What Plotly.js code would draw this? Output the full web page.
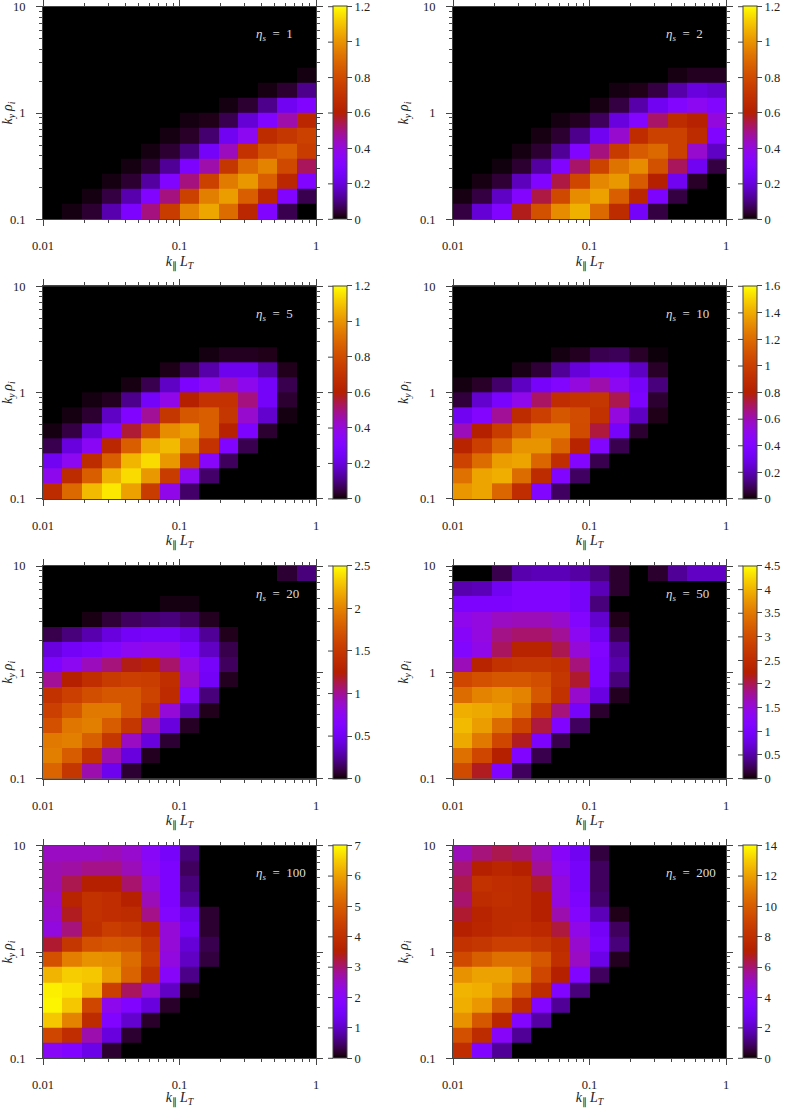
<!DOCTYPE html>
<html>
<head>
<meta charset="utf-8">
<script src="https://cdn.plot.ly/plotly-3.0.1.min.js"></script>
<style>
  html, body { margin: 0; padding: 0; background: #fff; }
</style>
</head>
<body>
<div id="chart" style="width:791px;height:1108px"></div>
<script>
const kParallelEdges = [0.01, 0.01389, 0.01931, 0.02683, 0.03728, 0.0518, 0.07197, 0.1, 0.1389, 0.1931, 0.2683, 0.3728, 0.518, 0.7197, 1];
const kyEdges = [0.1, 0.1389, 0.1931, 0.2683, 0.3728, 0.518, 0.7197, 1, 1.389, 1.931, 2.683, 3.728, 5.18, 7.197, 10];

// rows run from ky = 0.1 upwards
const zEta1 = [
  [0, .012, .036, .144, .29, .5, .74, .96, 1.04, .9, .64, .3, .06, 0],
  [0, 0, .012, .05, .144, .3, .5, .76, .95, 1.02, .86, .64, .3, .06],
  [0, 0, 0, .012, .036, .13, .3, .5, .76, .94, 1.01, .86, .64, .3],
  [0, 0, 0, 0, .012, .036, .12, .29, .46, .72, .89, .96, .79, .53],
  [0, 0, 0, 0, 0, .012, .036, .1, .26, .44, .7, .82, .86, .74],
  [0, 0, 0, 0, 0, 0, .012, .03, .085, .24, .36, .66, .72, .76],
  [0, 0, 0, 0, 0, 0, 0, .012, .018, .06, .19, .3, .46, .64],
  [0, 0, 0, 0, 0, 0, 0, 0, 0, .012, .036, .11, .24, .3],
  [0, 0, 0, 0, 0, 0, 0, 0, 0, 0, 0, .014, .036, .11],
  [0, 0, 0, 0, 0, 0, 0, 0, 0, 0, 0, 0, 0, .012],
  [0, 0, 0, 0, 0, 0, 0, 0, 0, 0, 0, 0, 0, 0],
  [0, 0, 0, 0, 0, 0, 0, 0, 0, 0, 0, 0, 0, 0],
  [0, 0, 0, 0, 0, 0, 0, 0, 0, 0, 0, 0, 0, 0],
  [0, 0, 0, 0, 0, 0, 0, 0, 0, 0, 0, 0, 0, 0],
];
const zEta2 = [
  [.05, .19, .3, .58, .82, .98, 1.06, .89, .66, .26, .05, 0, 0, 0],
  [.014, .05, .17, .32, .55, .79, .98, 1.03, .86, .64, .29, .05, 0, 0],
  [0, .014, .04, .16, .3, .55, .78, .97, 1.01, .85, .6, .24, .03, 0],
  [0, 0, .01, .036, .13, .3, .52, .77, .92, .98, .82, .53, .24, .05],
  [0, 0, 0, .012, .036, .12, .3, .5, .73, .85, .89, .76, .42, .17],
  [0, 0, 0, 0, .014, .036, .11, .24, .42, .67, .76, .76, .66, .3],
  [0, 0, 0, 0, 0, .012, .024, .07, .2, .32, .52, .66, .62, .4],
  [0, 0, 0, 0, 0, 0, 0, .014, .05, .14, .24, .31, .36, .31],
  [0, 0, 0, 0, 0, 0, 0, 0, .012, .018, .05, .14, .2, .18],
  [0, 0, 0, 0, 0, 0, 0, 0, 0, 0, 0, .014, .024, .024],
  [0, 0, 0, 0, 0, 0, 0, 0, 0, 0, 0, 0, 0, 0],
  [0, 0, 0, 0, 0, 0, 0, 0, 0, 0, 0, 0, 0, 0],
  [0, 0, 0, 0, 0, 0, 0, 0, 0, 0, 0, 0, 0, 0],
  [0, 0, 0, 0, 0, 0, 0, 0, 0, 0, 0, 0, 0, 0],
];
const zEta5 = [
  [.66, .89, 1.08, 1.16, 1.03, .74, .38, .08, 0, 0, 0, 0, 0, 0],
  [.37, .66, .86, 1.06, 1.14, 1.01, .74, .36, .08, 0, 0, 0, 0, 0],
  [.24, .36, .66, .86, 1.07, 1.14, 1.01, .74, .34, .07, 0, 0, 0, 0],
  [.06, .2, .35, .64, .86, 1.04, 1.08, .95, .7, .3, .06, 0, 0, 0],
  [.012, .05, .19, .32, .56, .79, .98, 1.02, .86, .62, .29, .036, 0, 0],
  [0, .012, .036, .17, .3, .48, .72, .84, .86, .72, .42, .18, .012, 0],
  [0, 0, .012, .024, .11, .26, .38, .6, .7, .7, .5, .26, .036, 0],
  [0, 0, 0, 0, .014, .06, .17, .29, .36, .44, .37, .26, .06, 0],
  [0, 0, 0, 0, 0, 0, .017, .06, .14, .23, .23, .14, .02, 0],
  [0, 0, 0, 0, 0, 0, 0, 0, .012, .024, .024, .018, 0, 0],
  [0, 0, 0, 0, 0, 0, 0, 0, 0, 0, 0, 0, 0, 0],
  [0, 0, 0, 0, 0, 0, 0, 0, 0, 0, 0, 0, 0, 0],
  [0, 0, 0, 0, 0, 0, 0, 0, 0, 0, 0, 0, 0, 0],
  [0, 0, 0, 0, 0, 0, 0, 0, 0, 0, 0, 0, 0, 0],
];
const zEta10 = [
  [1.34, 1.38, 1.18, .9, .42, .1, 0, 0, 0, 0, 0, 0, 0, 0],
  [1.22, 1.38, 1.41, 1.2, .88, .4, .1, 0, 0, 0, 0, 0, 0, 0],
  [1.02, 1.2, 1.36, 1.38, 1.18, .9, .43, .08, 0, 0, 0, 0, 0, 0],
  [.83, 1.01, 1.17, 1.33, 1.33, 1.17, .83, .42, .08, 0, 0, 0, 0, 0],
  [.59, .8, .99, 1.15, 1.28, 1.28, 1.06, .74, .35, .05, 0, 0, 0, 0],
  [.32, .43, .64, .88, 1.01, 1.12, 1.07, .93, .53, .22, .024, 0, 0, 0],
  [.06, .24, .37, .5, .7, .9, .94, .96, .72, .38, .05, 0, 0, 0],
  [.016, .04, .11, .22, .35, .42, .53, .61, .48, .35, .13, 0, 0, 0],
  [0, 0, 0, .02, .056, .16, .26, .35, .37, .22, .04, 0, 0, 0],
  [0, 0, 0, 0, 0, .016, .032, .08, .09, .04, .01, 0, 0, 0],
  [0, 0, 0, 0, 0, 0, 0, 0, 0, 0, 0, 0, 0, 0],
  [0, 0, 0, 0, 0, 0, 0, 0, 0, 0, 0, 0, 0, 0],
  [0, 0, 0, 0, 0, 0, 0, 0, 0, 0, 0, 0, 0, 0],
  [0, 0, 0, 0, 0, 0, 0, 0, 0, 0, 0, 0, 0, 0],
];
const zEta20 = [
  [1.83, 1.5, .95, .48, .08, 0, 0, 0, 0, 0, 0, 0, 0, 0],
  [1.98, 1.78, 1.45, .95, .42, .05, 0, 0, 0, 0, 0, 0, 0, 0],
  [1.95, 1.98, 1.8, 1.5, .9, .42, .08, 0, 0, 0, 0, 0, 0, 0],
  [1.7, 1.93, 1.98, 1.78, 1.5, .95, .42, .06, 0, 0, 0, 0, 0, 0],
  [1.58, 1.75, 1.95, 1.95, 1.75, 1.5, .85, .32, .04, 0, 0, 0, 0, 0],
  [1.45, 1.58, 1.68, 1.75, 1.75, 1.6, 1.38, .65, .2, 0, 0, 0, 0, 0],
  [1, 1.25, 1.42, 1.53, 1.58, 1.55, 1.42, .88, .52, .05, 0, 0, 0, 0],
  [.62, .75, .92, 1.05, 1.22, 1.3, 1.08, .82, .55, .15, 0, 0, 0, 0],
  [.42, .52, .58, .65, .75, .78, .78, .62, .35, .12, 0, 0, 0, 0],
  [.12, .2, .3, .42, .52, .55, .55, .45, .25, .04, 0, 0, 0, 0],
  [0, 0, .03, .09, .15, .18, .2, .15, .05, 0, 0, 0, 0, 0],
  [0, 0, 0, 0, 0, 0, .025, .025, 0, 0, 0, 0, 0, 0],
  [0, 0, 0, 0, 0, 0, 0, 0, 0, 0, 0, 0, 0, 0],
  [0, 0, 0, 0, 0, 0, 0, 0, 0, 0, 0, 0, .08, .2],
];
const zEta50 = [
  [3.0, 2.16, 1.13, .27, 0, 0, 0, 0, 0, 0, 0, 0, 0, 0],
  [3.42, 2.93, 2.25, 1.13, .22, 0, 0, 0, 0, 0, 0, 0, 0, 0],
  [3.92, 3.51, 2.93, 2.16, 1.08, .22, 0, 0, 0, 0, 0, 0, 0, 0],
  [4.05, 3.83, 3.38, 2.88, 2.07, 1.13, .27, 0, 0, 0, 0, 0, 0, 0],
  [3.96, 3.92, 3.83, 3.42, 2.7, 1.89, .99, .13, 0, 0, 0, 0, 0, 0],
  [3.38, 3.6, 3.69, 3.6, 3.15, 2.61, 1.58, .77, .09, 0, 0, 0, 0, 0],
  [2.93, 3.06, 3.15, 3.15, 3.02, 2.7, 2.12, 1.08, .36, 0, 0, 0, 0, 0],
  [1.67, 2.34, 2.61, 2.7, 2.7, 2.61, 1.89, 1.08, .54, 0, 0, 0, 0, 0],
  [1.17, 1.44, 1.98, 2.34, 2.34, 2.02, 1.53, 1.12, .45, 0, 0, 0, 0, 0],
  [1.26, 1.49, 1.85, 1.94, 1.94, 1.8, 1.35, .9, .22, 0, 0, 0, 0, 0],
  [1.4, 1.49, 1.62, 1.67, 1.67, 1.58, 1.22, .68, .07, 0, 0, 0, 0, 0],
  [1.08, 1.08, 1.08, 1.13, 1.13, 1.13, .99, .36, 0, 0, 0, 0, 0, 0],
  [.54, .58, .9, 1.13, 1.13, 1.13, .99, .58, .13, 0, 0, 0, 0, 0],
  [0, 0, .22, .54, .58, .58, .5, .36, .13, 0, .13, .45, .63, .63],
];
const zEta100 = [
  [2.03, 1.75, 1.26, .21, 0, 0, 0, 0, 0, 0, 0, 0, 0, 0],
  [4.55, 3.92, 2.66, 1.19, .21, 0, 0, 0, 0, 0, 0, 0, 0, 0],
  [6.44, 5.6, 3.85, 1.75, 1.05, .18, 0, 0, 0, 0, 0, 0, 0, 0],
  [6.9, 6.44, 4.55, 2.17, 1.75, 1.19, .18, 0, 0, 0, 0, 0, 0, 0],
  [6.86, 6.72, 6.23, 4.41, 3.08, 2.38, .98, .08, 0, 0, 0, 0, 0, 0],
  [6.23, 6.51, 6.44, 5.95, 5.11, 3.99, 1.96, .63, 0, 0, 0, 0, 0, 0],
  [4.76, 5.53, 5.81, 5.74, 5.25, 4.34, 2.31, .98, .28, 0, 0, 0, 0, 0],
  [3.29, 4.2, 4.76, 4.9, 4.83, 4.2, 2.38, 1.12, .35, 0, 0, 0, 0, 0],
  [2.31, 2.94, 3.99, 4.34, 4.2, 3.78, 2.38, 1.47, .21, 0, 0, 0, 0, 0],
  [2.45, 3.36, 4.06, 3.92, 3.85, 2.87, 1.82, 1.26, .21, 0, 0, 0, 0, 0],
  [2.52, 3.64, 4.06, 3.92, 3.57, 2.59, 1.68, .7, 0, 0, 0, 0, 0, 0],
  [2.66, 3.15, 3.5, 3.5, 3.01, 2.38, 1.68, .56, 0, 0, 0, 0, 0, 0],
  [2.66, 2.73, 2.87, 2.87, 2.59, 2.1, 1.68, .42, 0, 0, 0, 0, 0, 0],
  [2.52, 2.52, 2.52, 2.59, 2.45, 2.03, 1.54, .56, 0, 0, 0, 0, 0, 0],
];
const zEta200 = [
  [7.84, 3.5, 1.4, 0, 0, 0, 0, 0, 0, 0, 0, 0, 0, 0],
  [9.52, 7.7, 3.92, 1.4, 0, 0, 0, 0, 0, 0, 0, 0, 0, 0],
  [11.62, 9.8, 7.42, 3.78, 1.54, 0, 0, 0, 0, 0, 0, 0, 0, 0],
  [12.32, 11.76, 10.08, 7.7, 3.78, 1.4, 0, 0, 0, 0, 0, 0, 0, 0],
  [12.46, 12.32, 11.62, 9.8, 7.7, 3.5, 1.12, 0, 0, 0, 0, 0, 0, 0],
  [11.62, 12.04, 12.04, 11.34, 9.1, 7, 3.5, .84, 0, 0, 0, 0, 0, 0],
  [9.24, 10.08, 10.64, 10.64, 9.8, 7.98, 5.04, 2.52, .28, 0, 0, 0, 0, 0],
  [8.12, 8.4, 8.82, 8.82, 8.4, 7.7, 4.9, 3.22, 1.12, 0, 0, 0, 0, 0],
  [7, 7.42, 7.7, 7.84, 7.56, 6.44, 4.48, 2.94, .84, 0, 0, 0, 0, 0],
  [6.58, 7.28, 7.7, 7.7, 7, 5.32, 3.78, 1.82, .21, 0, 0, 0, 0, 0],
  [6.02, 7.7, 7.98, 7.7, 7, 4.62, 3.36, .98, 0, 0, 0, 0, 0, 0],
  [6.3, 8.12, 7.84, 7.7, 6.58, 4.62, 3.08, .84, 0, 0, 0, 0, 0, 0],
  [5.88, 7, 7.42, 7, 5.6, 4.2, 3.08, .84, 0, 0, 0, 0, 0, 0],
  [5.18, 5.88, 6.3, 6.02, 5.18, 3.92, 2.8, .56, 0, 0, 0, 0, 0, 0],
];

const etaLabels = ["1", "2", "5", "10", "20", "50", "100", "200"];
const zPanels = [zEta1, zEta2, zEta5, zEta10, zEta20, zEta50, zEta100, zEta200];
const zMaxes = [1.2, 1.2, 1.2, 1.6, 2.5, 4.5, 7, 14];
const ticks12 = [0, 0.2, 0.4, 0.6, 0.8, 1, 1.2];
const ticks16 = [0, 0.2, 0.4, 0.6, 0.8, 1, 1.2, 1.4, 1.6];
const ticks25 = [0, 0.5, 1, 1.5, 2, 2.5];
const ticks45 = [0, 0.5, 1, 1.5, 2, 2.5, 3, 3.5, 4, 4.5];
const ticks7 = [0, 1, 2, 3, 4, 5, 6, 7];
const ticks14 = [0, 2, 4, 6, 8, 10, 12, 14];
const barTicks = [ticks12, ticks12, ticks12, ticks16, ticks25, ticks45, ticks7, ticks14];

const W = 791, H = 1108;
const colLeft = [43, 453];
const rowTop = [6.7, 286.3, 566, 845.7];
const plotW = 273, plotH = 212.6;
const barGap = 17, barW = 14;
const lineColor = "#444";
const font = { family: "Liberation Serif", size: 12.5, color: "#222" };
const mathFont = { family: "Liberation Serif", size: 14, color: "#222" };

// gnuplot default pm3d palette (rgbformulae 7,5,15)
const gnuplotScale = [];
for (let i = 0; i <= 64; i++) {
  const t = i / 64;
  const r = Math.round(255 * Math.sqrt(t));
  const g = Math.round(255 * t * t * t);
  const b = Math.round(255 * Math.max(0, Math.sin(2 * Math.PI * t)));
  gnuplotScale.push([t, `rgb(${r},${g},${b})`]);
}

const traces = [];
const shapes = [];
const annotations = [];
const layout = {
  width: W,
  height: H,
  margin: { l: 0, r: 0, t: 0, b: 0, autoexpand: false },
  paper_bgcolor: "#fff",
  plot_bgcolor: "#000",
  font: font,
  showlegend: false,
  shapes: shapes,
  annotations: annotations,
};

zPanels.forEach((z, i) => {
  const left = colLeft[i % 2];
  const top = rowTop[Math.floor(i / 2)];
  const n = i + 1;
  const suffix = n === 1 ? "" : String(n);
  const barLeft = left + plotW + barGap;

  traces.push({
    type: "heatmap",
    x: kParallelEdges,
    y: kyEdges,
    z: z,
    xaxis: "x" + suffix,
    yaxis: "y" + suffix,
    zmin: 0,
    zmax: zMaxes[i],
    zsmooth: false,
    hoverinfo: "skip",
    colorscale: gnuplotScale,
    colorbar: {
      x: barLeft / W,
      xanchor: "left",
      xpad: 0,
      y: 1 - (top + plotH) / H,
      yanchor: "bottom",
      ypad: 0,
      len: plotH / H,
      lenmode: "fraction",
      thickness: barW,
      thicknessmode: "pixels",
      outlinewidth: 1,
      outlinecolor: lineColor,
      borderwidth: 0,
      tickmode: "array",
      tickvals: barTicks[i],
      ticktext: barTicks[i].map(String),
      ticks: "outside",
      ticklen: 5,
      tickwidth: 1,
      tickcolor: lineColor,
      tickfont: font,
      ticklabeloverflow: "allow",
      tickprefix: "\u00a0\u00a0\u00a0",
    },
  });

  const axisBase = {
    type: "log",
    showgrid: false,
    zeroline: false,
    showline: true,
    linecolor: lineColor,
    linewidth: 1,
    mirror: "ticks",
    ticks: "outside",
    ticklen: 6,
    tickwidth: 1,
    tickcolor: lineColor,
    dtick: 1,
    tickfont: font,
    minor: { dtick: "D1", ticks: "outside", ticklen: 3, tickwidth: 1, tickcolor: lineColor, showgrid: false },
  };

  layout["xaxis" + suffix] = Object.assign({}, axisBase, {
    domain: [left / W, (left + plotW) / W],
    anchor: "y" + suffix,
    range: [-2, 0],
    ticklabelstandoff: 9,
    title: { text: "<i>k</i><sub>∥</sub>\u2009<i>L<sub>T</sub></i>", font: mathFont, standoff: 3 },
  });
  layout["yaxis" + suffix] = Object.assign({}, axisBase, {
    domain: [1 - (top + plotH) / H, 1 - top / H],
    anchor: "x" + suffix,
    range: [-1, 1],
    ticklabelstandoff: 8,
    title: { text: "<i>k<sub>y</sub></i>\u2009<i>ρ<sub>i</sub></i>", font: mathFont, standoff: 7 },
  });

  annotations.push({
    xref: "paper",
    yref: "paper",
    x: (left + 211) / W,
    y: 1 - (top + 28) / H,
    xanchor: "left",
    yanchor: "middle",
    showarrow: false,
    text: `<i>η<sub>s</sub></i>\u2002=\u2002${etaLabels[i]}`,
    font: { family: font.family, size: 13, color: "#dcdcdc" },
  });

  // plotly colorbars only tick one side, the reference ticks both
  barTicks[i].forEach((v) => {
    const py = top + plotH * (1 - v / zMaxes[i]);
    shapes.push({
      type: "line",
      xref: "paper",
      yref: "paper",
      x0: (barLeft - 5) / W,
      x1: barLeft / W,
      y0: 1 - py / H,
      y1: 1 - py / H,
      line: { color: lineColor, width: 1 },
    });
  });
});

Plotly.newPlot("chart", traces, layout, { displayModeBar: false, staticPlot: true });
</script>
</body>
</html>
